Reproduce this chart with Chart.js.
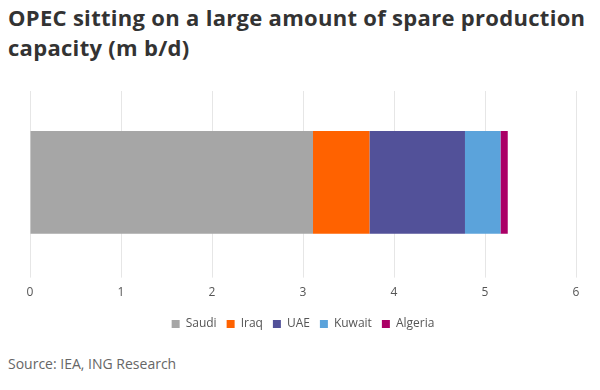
<!DOCTYPE html>
<html>
<head>
<meta charset="utf-8">
<script src="https://cdn.jsdelivr.net/npm/chart.js@4"></script>
<style>
  body { margin: 0; background: #fff; font-family: "Open Sans", sans-serif; }
  #wrap { position: relative; width: 600px; height: 390px; }
  #title { position: absolute; left: 8px; top: 2px; font-size: 22px; font-weight: 700; color: #333; line-height: 30px; letter-spacing: 0.3px; }
  #source { position: absolute; left: 8px; top: 354px; font-size: 14px; color: #666; }
  #chartBox { position: absolute; left: 0; top: 85px; width: 600px; height: 255px; }
</style>
</head>
<body>
<div id="wrap">
  <div id="title">OPEC sitting on a large amount of spare production<br>capacity (m b/d)</div>
  <div id="chartBox"><canvas id="spareChart"></canvas></div>
  <div id="source">Source: IEA, ING Research</div>
</div>
<script>
// ---- data ----
const categories = ['Spare capacity'];
const countries = ['Saudi', 'Iraq', 'UAE', 'Kuwait', 'Algeria'];
const spareCapacity = [3.11, 0.62, 1.05, 0.39, 0.08];
const countryColors = ['#a6a6a6', '#ff6200', '#525199', '#5ba3db', '#ab0066'];
const xTicks = [0, 1, 2, 3, 4, 5, 6];

const datasets = countries.map((c, i) => ({
  label: c,
  data: [spareCapacity[i]],
  backgroundColor: countryColors[i],
  borderWidth: 0,
  barPercentage: 0.75,
  categoryPercentage: 0.75
}));

new Chart(document.getElementById('spareChart'), {
  type: 'bar',
  data: { labels: categories, datasets: datasets },
  options: {
    indexAxis: 'y',
    responsive: true,
    maintainAspectRatio: false,
    animation: false,
    layout: { padding: { left: 30, right: 24, top: 6 } },
    plugins: {
      tooltip: { enabled: false },
      legend: {
        position: 'bottom',
        labels: {
          boxWidth: 8, boxHeight: 8, padding: 10,
          color: '#555', font: { family: 'Open Sans', size: 12 }
        }
      }
    },
    scales: {
      x: {
        stacked: true,
        min: 0, max: 6,
        afterBuildTicks: axis => { axis.ticks = xTicks.map(v => ({ value: v })); },
        grid: { color: '#e6e6e6', drawTicks: true, tickLength: 4 },
        border: { display: false },
        ticks: { color: '#555', font: { family: 'Open Sans', size: 12 }, padding: 8 }
      },
      y: { stacked: true, display: false }
    }
  }
});
</script>
</body>
</html>
